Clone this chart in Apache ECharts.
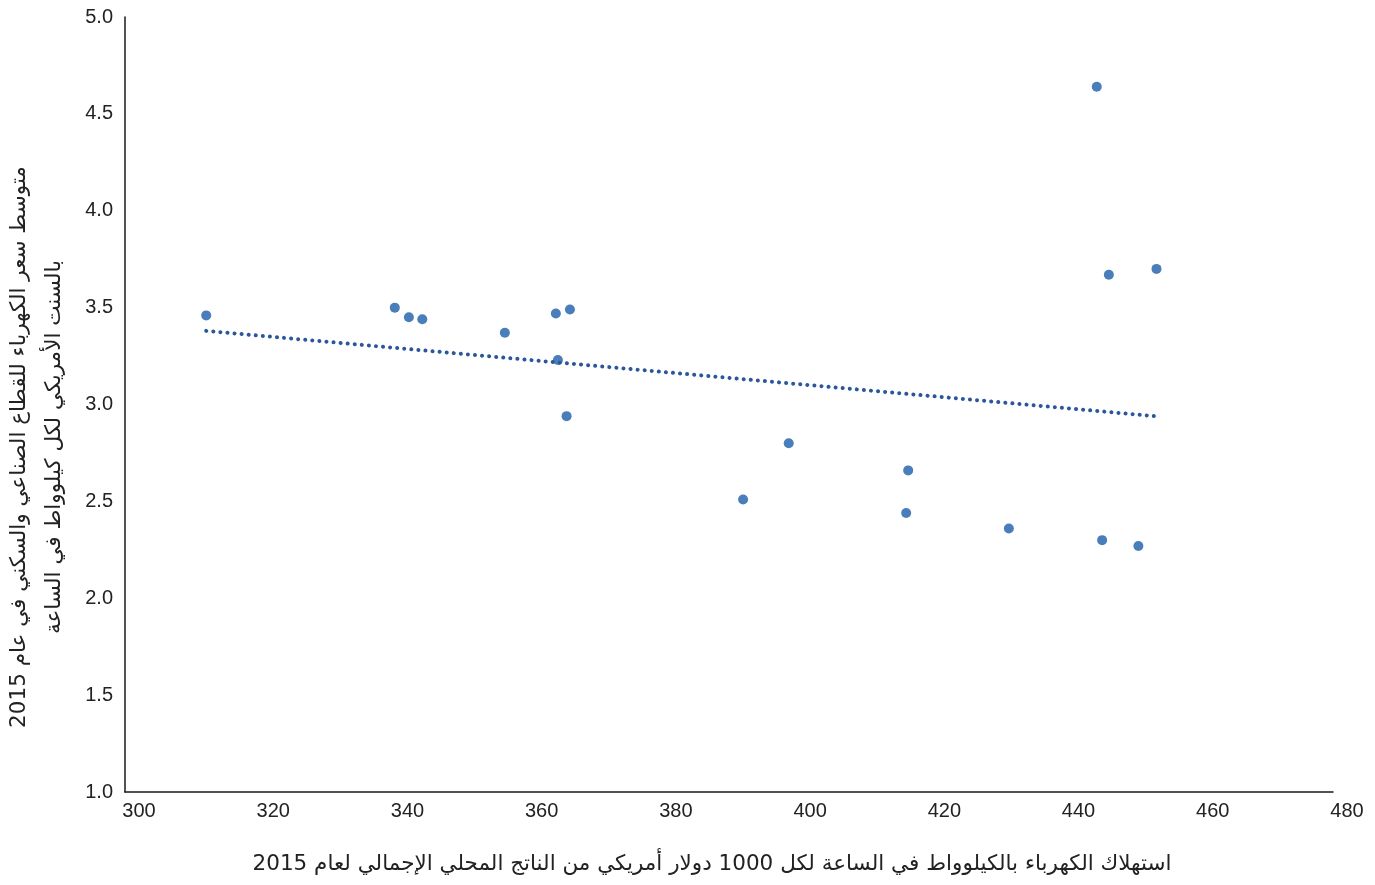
<!DOCTYPE html>
<html>
<head>
<meta charset="utf-8">
<script src="https://cdn.jsdelivr.net/npm/echarts@6/dist/echarts.min.js"></script>
<style>
html,body{margin:0;padding:0;background:#fff;}
#chart{width:1375px;height:885px;}
</style>
</head>
<body>
<div id="chart"></div>
<script>
// Electricity use (kWh per $1000 GDP, 2015)
var xValues = [312.1, 340.2, 342.3, 344.3, 356.6, 364.2, 366.3, 364.5, 365.8, 392.1, 398.9, 416.7, 416.4, 431.7, 444.8, 446.6, 453.7, 445.6, 451.0];
// Average industrial & residential price (US cents per kWh, 2015)
var yValues = [3.46, 3.50, 3.45, 3.44, 3.37, 3.47, 3.49, 3.23, 2.94, 2.51, 2.80, 2.66, 2.44, 2.36, 4.64, 3.67, 3.70, 2.30, 2.27];
// Linear trendline endpoints
var trendX = [312.1, 453.4];
var trendY = [3.38, 2.94];

var xAxisTitle = 'استهلاك الكهرباء بالكيلوواط في الساعة لكل 1000 دولار أمريكي من الناتج المحلي الإجمالي لعام 2015';
var yAxisTitle = 'متوسط سعر الكهرباء للقطاع الصناعي والسكني في عام 2015\nبالسنت الأمريكي لكل كيلوواط في الساعة';

var points = xValues.map(function (x, i) { return [x, yValues[i]]; });
var trend = trendX.map(function (x, i) { return [x, trendY[i]]; });

var chart = echarts.init(document.getElementById('chart'));
var labelFont = '"Liberation Sans", Arial, sans-serif';
var arabicFont = '"DejaVu Sans", "Noto Sans", sans-serif';
chart.setOption({
  animation: false,
  backgroundColor: '#fff',
  grid: { left: 125, right: 42, top: 17, bottom: 93, containLabel: false },
  xAxis: {
    type: 'value', min: 300, max: 480, interval: 20,
    axisLine: { show: true, lineStyle: { color: '#1a1a1a', width: 1.5 } },
    axisTick: { show: false },
    splitLine: { show: false },
    axisLabel: { color: '#222', fontSize: 20, fontFamily: labelFont, margin: 9, padding: [0, 0, 0, 28] }
  },
  yAxis: {
    type: 'value', min: 1, max: 5, interval: 0.5,
    axisLine: { show: true, lineStyle: { color: '#1a1a1a', width: 1.5 } },
    axisTick: { show: false },
    splitLine: { show: false },
    axisLabel: { color: '#222', fontSize: 20, fontFamily: labelFont, margin: 12,
      formatter: function (v) { return v.toFixed(1); } }
  },
  graphic: [
    {
      type: 'text', x: 712, y: 864,
      style: { text: xAxisTitle, font: '21.5px ' + arabicFont, fill: '#222', textAlign: 'center', textVerticalAlign: 'middle' }
    },
    {
      type: 'text', x: 37, y: 447, rotation: Math.PI / 2,
      style: { text: yAxisTitle, font: '21.5px ' + arabicFont, fill: '#222', textAlign: 'center', textVerticalAlign: 'middle', lineHeight: 35 }
    }
  ],
  series: [
    {
      type: 'line', data: trend, symbol: 'none', silent: true, z: 3,
      lineStyle: { color: '#2b579a', width: 4, type: [0.1, 7], cap: 'round' }
    },
    {
      type: 'scatter', data: points, symbol: 'circle', symbolSize: 10, z: 2,
      itemStyle: { color: '#4a7ebb', opacity: 1 }
    }
  ]
});
</script>
</body>
</html>
